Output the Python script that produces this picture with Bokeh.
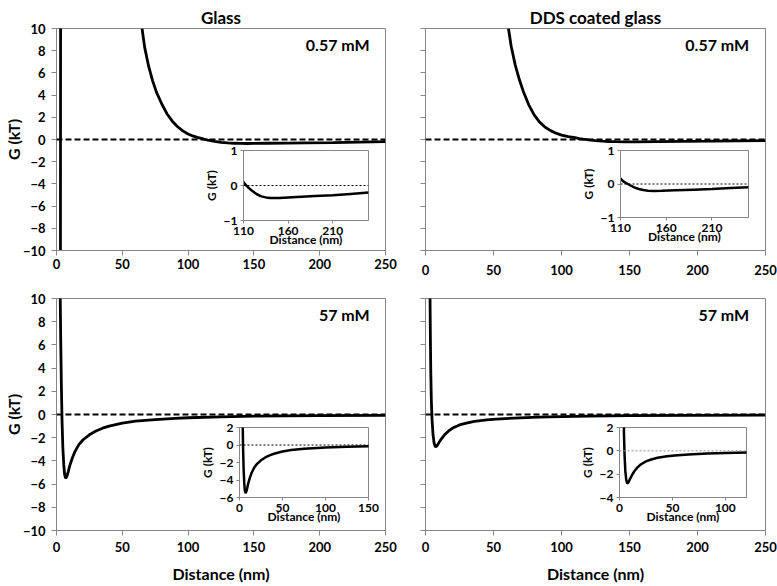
from bokeh.plotting import figure
from bokeh.models import (Range1d, Span, Label, FixedTicker, GridBox,
                          CustomJSTickFormatter, Title)
from bokeh.embed import file_html
from bokeh.resources import INLINE

NAN = float("nan")
FONT = "Lato"
GRAY = "#868686"

# ---------------- data ----------------
main_x_ticks = [0, 50, 100, 150, 200, 250]
main_y_ticks = [-10, -8, -6, -4, -2, 0, 2, 4, 6, 8, 10]

titles = ["Glass", "DDS coated glass"]
conc_labels = ["0.57 mM", "57 mM"]

# Glass, 0.57 mM
glass_low_x = [3.0, 3.1, NAN, 65, 67, 70, 73, 76, 80, 84, 88, 92, 96, 100, 104, 107,
               110, 112, 115, 120, 125, 130, 135, 140, 145, 150, 160, 175, 190, 210, 230, 250]
glass_low_y = [-10.5, 10.5, NAN, 10.0, 8.3, 6.6, 5.3, 4.25, 3.2, 2.3, 1.65, 1.15, 0.78, 0.5, 0.3, 0.19,
               0.1, 0.03, -0.05, -0.16, -0.25, -0.31, -0.34, -0.355, -0.36, -0.355, -0.34, -0.32, -0.3, -0.28, -0.24, -0.2]

# DDS coated glass, 0.57 mM
dds_low_x = [61, 63, 66, 69, 72, 76, 80, 84, 88, 92, 96, 100, 105,
             110, 113, 116, 120, 125, 130, 135, 140, 147, 155, 170, 190, 210, 230, 250]
dds_low_y = [10.0, 8.4, 6.7, 5.4, 4.3, 3.1, 2.2, 1.55, 1.1, 0.8, 0.57, 0.4, 0.25,
             0.16, 0.08, 0.03, -0.03, -0.1, -0.15, -0.18, -0.2, -0.21, -0.205, -0.19, -0.17, -0.15, -0.12, -0.1]

# Glass, 57 mM
glass_high_x = [2.8, 3.2, 3.7, 4.2, 4.8, 5.5, 6.2, 7.0, 8.0, 9.0, 10, 12, 14, 17, 20, 25, 30,
                35, 40, 50, 60, 75, 90, 100, 125, 150, 200, 250]
glass_high_y = [10.5, 6.5, 2.5, -0.5, -2.8, -4.3, -5.2, -5.5, -5.3, -4.9, -4.45, -3.75, -3.2, -2.6, -2.2,
                -1.75, -1.42, -1.18, -1.0, -0.75, -0.58, -0.44, -0.33, -0.28, -0.2, -0.14, -0.1, -0.07]

# DDS coated glass, 57 mM
dds_high_x = [3.3, 3.6, 3.9, 4.3, 4.8, 5.5, 6.3, 7.3, 8.5, 10, 12, 14, 17, 20, 25, 30, 36,
              45, 52, 65, 83, 100, 120, 150, 200, 250]
dds_high_y = [10.5, 6.5, 3.5, 1.2, -0.4, -1.7, -2.45, -2.8, -2.7, -2.4, -2.05, -1.75, -1.42, -1.17,
              -0.9, -0.74, -0.6, -0.46, -0.4, -0.31, -0.23, -0.18, -0.14, -0.1, -0.07, -0.05]

inset_low_x_range = (110, 250)
inset_low_y_range = (-1, 1)
inset_low_x_ticks = [110, 160, 210]
inset_low_y_ticks = [-1, 0, 1]

inset_glass_high_x_range = (0, 150)
inset_glass_high_y_range = (-6, 2)
inset_glass_high_x_ticks = [0, 50, 100, 150]
inset_glass_high_y_ticks = [-6, -4, -2, 0, 2]

inset_dds_high_x_range = (0, 120)
inset_dds_high_y_range = (-4, 2)
inset_dds_high_x_ticks = [0, 50, 100]
inset_dds_high_y_ticks = [-4, -2, 0, 2]

# ---------------- layout boxes (x0, y0, x1, y1) and borders (l, r, t, b) ----------------
boxes = {
    "tl": ((0, 0, 398, 290), (52, 12, 26, 39)),
    "tr": ((398, 0, 777, 290), (26, 12, 28, 40)),
    "bl": ((0, 290, 398, 586), (49, 13, 8, 56)),
    "br": ((398, 290, 777, 586), (27, 12, 8, 56)),
    "tl_in": ((200, 142, 374, 256), (43, 6, 8, 36)),
    "tr_in": ((577, 142, 754, 253), (43, 6, 8, 36)),
    "bl_in": ((196, 419, 380, 533), (43, 12, 8, 36)),
    "br_in": ((576, 419, 752, 533), (43, 6, 8, 36)),
}
title_offsets = {"tl": -10, "tr": 4}


def base_fig(key, xr, yr, title=None):
    (x0, y0, x1, y1), (l, r, t, b) = boxes[key]
    kw = {}
    if title:
        kw["title"] = Title(text=title, align="center", text_font=FONT, text_font_size="17px",
                            text_font_style="bold", text_color="black", standoff=2,
                            offset=title_offsets.get(key, 0))
    p = figure(width=x1 - x0, height=y1 - y0, output_backend="svg", toolbar_location=None,
               x_range=Range1d(*xr), y_range=Range1d(*yr),
               min_border_left=l, min_border_right=r, min_border_top=t, min_border_bottom=b,
               **kw)
    p.border_fill_color = None
    p.xgrid.visible = False
    p.ygrid.visible = False
    p.outline_line_color = GRAY
    p.outline_line_width = 1
    for ax in (p.xaxis[0], p.yaxis[0]):
        ax.axis_line_color = GRAY
        ax.major_tick_line_color = GRAY
        ax.minor_tick_line_color = None
        ax.major_tick_in = 0
        ax.major_label_text_font = FONT
        ax.major_label_text_font_style = "bold"
        ax.major_label_text_color = "black"
        ax.axis_label_text_font = FONT
        ax.axis_label_text_font_style = "bold"
        ax.axis_label_text_color = "black"
    return p


def make_main(key, xs, ys, title, conc, show_y, bottom_row, xstandoff):
    p = base_fig(key, (0, 250), (-10, 10), title)
    p.background_fill_color = None
    p.xaxis.ticker = FixedTicker(ticks=main_x_ticks)
    p.yaxis.ticker = FixedTicker(ticks=main_y_ticks)
    for ax in (p.xaxis[0], p.yaxis[0]):
        ax.major_tick_out = 5
        ax.major_label_text_font_size = "13px"
    p.yaxis.major_label_standoff = 6
    if show_y:
        p.yaxis.axis_label = "G (kT)"
        p.yaxis.axis_label_text_font_size = "16px"
        p.yaxis.axis_label_standoff = -3
    else:
        p.yaxis.formatter = CustomJSTickFormatter(code="return ''")
    p.xaxis.major_label_standoff = xstandoff
    if bottom_row:
        p.xaxis.axis_label = "Distance (nm)"
        p.xaxis.axis_label_text_font_size = "16px"
        p.xaxis.axis_label_standoff = 9
    p.add_layout(Span(location=0, dimension="width", line_color="black",
                      line_width=1.8, line_dash="6 3"))
    p.line(xs, ys, line_color="black", line_width=2.8)
    p.add_layout(Label(x=238, y=8.6, text=conc, text_align="right", text_baseline="middle",
                       text_font=FONT, text_font_size="16px", text_font_style="bold",
                       text_color="black"))
    return p


def make_inset(key, xs, ys, xr, yr, xt, yt, zero_color):
    p = base_fig(key, xr, yr)
    p.background_fill_color = "white"
    p.xaxis.ticker = FixedTicker(ticks=xt)
    p.yaxis.ticker = FixedTicker(ticks=yt)
    for ax in (p.xaxis[0], p.yaxis[0]):
        ax.major_tick_out = 3
        ax.major_label_text_font_size = "12px"
        ax.major_label_standoff = 3
        ax.axis_label_text_font_size = "12px"
    p.xaxis.axis_label = "Distance (nm)"
    p.xaxis.axis_label_standoff = -6
    p.yaxis.axis_label = "G (kT)"
    p.yaxis.axis_label_standoff = 2
    p.add_layout(Span(location=0, dimension="width", line_color=zero_color,
                      line_width=1, line_dash="2 2"))
    p.line(xs, ys, line_color="black", line_width=2.5)
    return p


figs = {
    "tl": make_main("tl", glass_low_x, glass_low_y, titles[0], conc_labels[0], True, False, 3),
    "tr": make_main("tr", dds_low_x, dds_low_y, titles[1], conc_labels[0], False, False, 9),
    "bl": make_main("bl", glass_high_x, glass_high_y, None, conc_labels[1], True, True, 6),
    "br": make_main("br", dds_high_x, dds_high_y, None, conc_labels[1], False, True, 6),
    "tl_in": make_inset("tl_in", glass_low_x, glass_low_y, inset_low_x_range, inset_low_y_range,
                        inset_low_x_ticks, inset_low_y_ticks, "black"),
    "tr_in": make_inset("tr_in", dds_low_x, dds_low_y, inset_low_x_range, inset_low_y_range,
                        inset_low_x_ticks, inset_low_y_ticks, "black"),
    "bl_in": make_inset("bl_in", glass_high_x, glass_high_y, inset_glass_high_x_range,
                        inset_glass_high_y_range, inset_glass_high_x_ticks,
                        inset_glass_high_y_ticks, "black"),
    "br_in": make_inset("br_in", dds_high_x, dds_high_y, inset_dds_high_x_range,
                        inset_dds_high_y_range, inset_dds_high_x_ticks,
                        inset_dds_high_y_ticks, "#909090"),
}

xs_b = sorted({v for (b, _) in boxes.values() for v in (b[0], b[2])})
ys_b = sorted({v for (b, _) in boxes.values() for v in (b[1], b[3])})
cols = [f"{xs_b[i + 1] - xs_b[i]}px" for i in range(len(xs_b) - 1)]
rows = [f"{ys_b[i + 1] - ys_b[i]}px" for i in range(len(ys_b) - 1)]

children = []
for key in ["tl", "tr", "bl", "br", "tl_in", "tr_in", "bl_in", "br_in"]:
    (x0, y0, x1, y1), _ = boxes[key]
    r0 = ys_b.index(y0)
    c0 = xs_b.index(x0)
    children.append((figs[key], r0, c0, ys_b.index(y1) - r0, xs_b.index(x1) - c0))

grid = GridBox(children=children, rows=rows, cols=cols, spacing=0)

open("out.html", "w").write(file_html(grid, INLINE))
